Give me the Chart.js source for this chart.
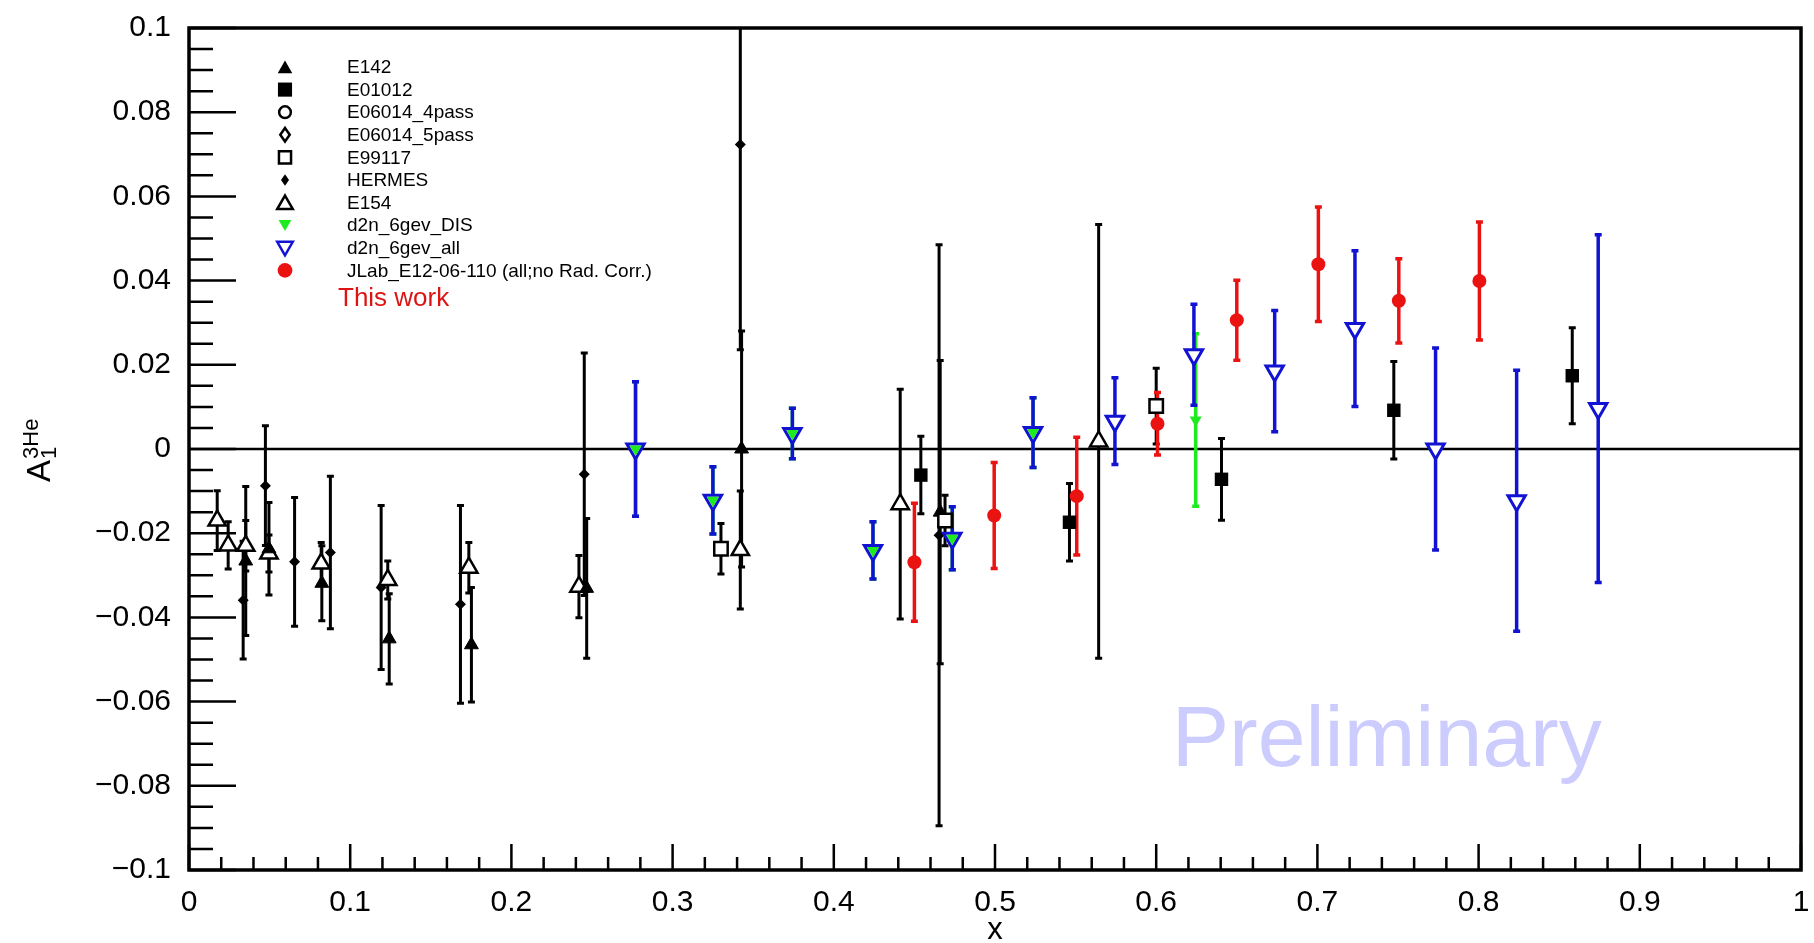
<!DOCTYPE html>
<html>
<head>
<meta charset="utf-8">
<title>A1 3He vs x</title>
<script src="https://cdn.jsdelivr.net/npm/chart.js@4.4.0/dist/chart.umd.min.js"></script>
<style>
  html, body { margin: 0; padding: 0; background: #fff; }
  #wrap { width: 1814px; height: 943px; }
</style>
</head>
<body>
<div id="wrap"><canvas id="a1chart" width="1814" height="943"></canvas></div>
<script>
// E142 (SLAC)
const e142X   = [0.0352, 0.0496, 0.0824, 0.1242, 0.1752, 0.2467, 0.3428, 0.4660];
const e142Y   = [-0.0266, -0.0237, -0.0319, -0.0451, -0.0465, -0.0331, 0.0000, -0.0150];
const e142Err = [0.0177, 0.0110, 0.0089, 0.0107, 0.0136, 0.0166, 0.0280, 0.0360];

// E01012
const e01012X   = [0.4540, 0.5462, 0.6405, 0.7474, 0.8581];
const e01012Y   = [-0.0062, -0.0174, -0.0072, 0.0092, 0.0174];
const e01012Err = [0.0092, 0.0092, 0.0097, 0.0116, 0.0114];

// E06014 (no points in this x range)
const e06014p4X = [], e06014p4Y = [], e06014p4Err = [];
const e06014p5X = [], e06014p5Y = [], e06014p5Err = [];

// E99117
const e99117X   = [0.3300, 0.4690, 0.6000];
const e99117Y   = [-0.0237, -0.0170, 0.0102];
const e99117Err = [0.0060, 0.0060, 0.0090];

// HERMES
const hermesX   = [0.0336, 0.0474, 0.0655, 0.0877, 0.1192, 0.1684, 0.2452, 0.3420, 0.4653];
const hermesY   = [-0.0359, -0.0087, -0.0268, -0.0246, -0.0329, -0.0369, -0.0060, 0.0723, -0.0205];
const hermesErr = [0.0140, 0.0142, 0.0153, 0.0181, 0.0195, 0.0235, 0.0288, 0.0487, 0.0690];

// E154
const e154X   = [0.0175, 0.0243, 0.0352, 0.0496, 0.0820, 0.1233, 0.1736, 0.2419, 0.3420, 0.4412, 0.5643];
const e154Y   = [-0.0170, -0.0229, -0.0230, -0.0248, -0.0272, -0.0311, -0.0282, -0.0327, -0.0240, -0.0131, 0.0018];
const e154Err = [0.0071, 0.0056, 0.0060, 0.0044, 0.0050, 0.0045, 0.0060, 0.0074, 0.0140, 0.0273, 0.0515];

// d2n 6 GeV, DIS bins only
const d2nDisX   = [0.2770, 0.3250, 0.3743, 0.4243, 0.4735, 0.5236, 0.6245];
const d2nDisY   = [0.0000, -0.0122, 0.0037, -0.0241, -0.0212, 0.0039, 0.0069];
const d2nDisErr = [0.0160, 0.0080, 0.0060, 0.0068, 0.0075, 0.0083, 0.0205];

// d2n 6 GeV, all bins
const d2nAllX   = [0.2770, 0.3250, 0.3743, 0.4243, 0.4735, 0.5236, 0.5744, 0.6234, 0.6735, 0.7233, 0.7733, 0.8236, 0.8742];
const d2nAllY   = [0.0000, -0.0122, 0.0037, -0.0241, -0.0212, 0.0039, 0.0066, 0.0224, 0.0185, 0.0286, 0.0000, -0.0123, 0.0096];
const d2nAllErr = [0.0160, 0.0080, 0.0060, 0.0068, 0.0075, 0.0083, 0.0103, 0.0120, 0.0144, 0.0185, 0.0240, 0.0310, 0.0413];

// JLab E12-06-110, no radiative corrections
const jlabX   = [0.4500, 0.4995, 0.5507, 0.6008, 0.6500, 0.7006, 0.7505, 0.8005];
const jlabY   = [-0.0269, -0.0158, -0.0112, 0.0060, 0.0306, 0.0439, 0.0352, 0.0399];
const jlabErr = [0.0140, 0.0126, 0.0140, 0.0074, 0.0095, 0.0136, 0.0100, 0.0140];

const xTicks = [0, 0.1, 0.2, 0.3, 0.4, 0.5, 0.6, 0.7, 0.8, 0.9, 1];
const yTicks = [-0.1, -0.08, -0.06, -0.04, -0.02, 0, 0.02, 0.04, 0.06, 0.08, 0.1];

const FONT = "'Liberation Sans', Arial, Helvetica, sans-serif";
const BLACK = '#000000', BLUE = 'rgb(18,18,210)', RED = 'rgb(235,18,18)', GREEN = 'rgb(30,235,30)';

function pts(xs, ys) {
  return xs.map((x, i) => ({ x: x, y: ys[i] }));
}

function series(label, xs, ys, errs, style) {
  return Object.assign({
    label: label,
    data: pts(xs, ys),
    errors: errs,
    showLine: false,
    pointRotation: 0,
    pointBorderWidth: 0,
    barWidth: 3
  }, style);
}

const datasets = [
  series('E142', e142X, e142Y, e142Err, {
    pointStyle: 'triangle', pointRadius: 8, pointBackgroundColor: BLACK, pointBorderColor: BLACK,
    pointBorderWidth: 1, barColor: BLACK, order: 5 }),
  series('E01012', e01012X, e01012Y, e01012Err, {
    pointStyle: 'rect', pointRadius: 9.5, pointBackgroundColor: BLACK, pointBorderColor: BLACK,
    barColor: BLACK, order: 3 }),
  series('E06014_4pass', e06014p4X, e06014p4Y, e06014p4Err, {
    pointStyle: 'circle', pointRadius: 6.5, pointBackgroundColor: '#fff', pointBorderColor: BLACK,
    pointBorderWidth: 2.5, barColor: BLACK, order: 8 }),
  series('E06014_5pass', e06014p5X, e06014p5Y, e06014p5Err, {
    pointStyle: 'rectRot', pointRadius: 7.5, pointBackgroundColor: '#fff', pointBorderColor: BLACK,
    pointBorderWidth: 2.5, barColor: BLACK, order: 9 }),
  series('E99117', e99117X, e99117Y, e99117Err, {
    pointStyle: 'rect', pointRadius: 9.5, pointBackgroundColor: '#fff', pointBorderColor: BLACK,
    pointBorderWidth: 2.5, barColor: BLACK, order: 4 }),
  series('HERMES', hermesX, hermesY, hermesErr, {
    pointStyle: 'rectRot', pointRadius: 5.5, pointBackgroundColor: BLACK, pointBorderColor: BLACK,
    barColor: BLACK, order: 7 }),
  series('E154', e154X, e154Y, e154Err, {
    pointStyle: 'triangle', pointRadius: 10, pointBackgroundColor: '#fff', pointBorderColor: BLACK,
    pointBorderWidth: 2.5, barColor: BLACK, order: 6 }),
  series('d2n_6gev_DIS', d2nDisX, d2nDisY, d2nDisErr, {
    pointStyle: 'triangle', pointRotation: 180, pointRadius: 7, pointBackgroundColor: GREEN,
    pointBorderColor: GREEN, barColor: GREEN, barWidth: 3.5, order: 1 }),
  series('d2n_6gev_all', d2nAllX, d2nAllY, d2nAllErr, {
    pointStyle: 'triangle', pointRotation: 180, pointRadius: 10, pointBackgroundColor: '#fff',
    pointBorderColor: BLUE, pointBorderWidth: 3, barColor: BLUE, barWidth: 3.5, order: 2 }),
  series('JLab_E12-06-110 (all;no Rad. Corr.)', jlabX, jlabY, jlabErr, {
    pointStyle: 'circle', pointRadius: 7, pointBackgroundColor: RED, pointBorderColor: RED,
    barColor: RED, barWidth: 3.5, order: 0 })
];

// vertical error bars with small end caps, clipped to the frame
const errorBars = {
  id: 'errorBars',
  beforeDatasetsDraw(chart) {
    const ctx = chart.ctx, a = chart.chartArea;
    const xs = chart.scales.x, ys = chart.scales.y;
    ctx.save();
    ctx.beginPath();
    ctx.rect(a.left, a.top, a.right - a.left, a.bottom - a.top);
    ctx.clip();

    // y = 0 reference line
    const y0 = ys.getPixelForValue(0);
    ctx.strokeStyle = BLACK;
    ctx.lineWidth = 2.5;
    ctx.beginPath();
    ctx.moveTo(a.left, y0);
    ctx.lineTo(a.right, y0);
    ctx.stroke();

    // watermark
    ctx.fillStyle = 'rgb(204,204,255)';
    ctx.font = '86px ' + FONT;
    ctx.textAlign = 'center';
    ctx.textBaseline = 'alphabetic';
    ctx.fillText('Preliminary', xs.getPixelForValue(0.743), ys.getPixelForValue(-0.0753));

    chart.data.datasets.forEach(ds => {
      if (!ds.errors) return;
      ctx.strokeStyle = ds.barColor;
      ctx.lineWidth = ds.barWidth;
      ds.data.forEach((p, i) => {
        const e = ds.errors[i];
        const px = xs.getPixelForValue(p.x);
        const hi = ys.getPixelForValue(p.y + e);
        const lo = ys.getPixelForValue(p.y - e);
        ctx.beginPath();
        ctx.moveTo(px, hi);
        ctx.lineTo(px, lo);
        ctx.moveTo(px - 3.5, hi);
        ctx.lineTo(px + 3.5, hi);
        ctx.moveTo(px - 3.5, lo);
        ctx.lineTo(px + 3.5, lo);
        ctx.stroke();
      });
    });
    ctx.restore();
  }
};

function marker(ctx, style, rot, x, y, r, fill, stroke, lw) {
  ctx.beginPath();
  if (style === 'circle') {
    ctx.arc(x, y, r, 0, Math.PI * 2);
  } else if (style === 'rect') {
    const s = r * Math.SQRT1_2;
    ctx.rect(x - s, y - s, 2 * s, 2 * s);
  } else if (style === 'rectRot') {
    ctx.moveTo(x, y - r);
    ctx.lineTo(x + r * 0.7, y);
    ctx.lineTo(x, y + r);
    ctx.lineTo(x - r * 0.7, y);
    ctx.closePath();
  } else {
    let ang = rot * Math.PI / 180;
    ctx.moveTo(x + Math.sin(ang) * r, y - Math.cos(ang) * r);
    for (let k = 0; k < 2; k++) {
      ang += 2 * Math.PI / 3;
      ctx.lineTo(x + Math.sin(ang) * r, y - Math.cos(ang) * r);
    }
    ctx.closePath();
  }
  ctx.fillStyle = fill;
  ctx.fill();
  if (lw > 0) {
    ctx.strokeStyle = stroke;
    ctx.lineWidth = lw;
    ctx.stroke();
  }
}

// frame, inward ticks, legend and axis titles
const frameAndText = {
  id: 'frameAndText',
  afterDatasetsDraw(chart) {
    const ctx = chart.ctx, a = chart.chartArea;
    const xs = chart.scales.x, ys = chart.scales.y;
    ctx.save();
    ctx.strokeStyle = BLACK;

    ctx.lineWidth = 2.5;
    ctx.beginPath();
    for (let i = 0; i <= 40; i++) {
      const py = ys.getPixelForValue(-0.1 + i * 0.005);
      ctx.moveTo(a.left, py);
      ctx.lineTo(a.left + (i % 4 === 0 ? 47 : 24), py);
    }
    for (let i = 0; i <= 50; i++) {
      const px = xs.getPixelForValue(i * 0.02);
      ctx.moveTo(px, a.bottom);
      ctx.lineTo(px, a.bottom - (i % 5 === 0 ? 26 : 13));
    }
    ctx.stroke();

    ctx.lineWidth = 3.5;
    ctx.strokeRect(a.left, a.top, a.right - a.left, a.bottom - a.top);

    // legend
    const top = 67, step = 22.6, mx = 285, tx = 347;
    ctx.font = '19px ' + FONT;
    ctx.textAlign = 'left';
    ctx.textBaseline = 'middle';
    chart.data.datasets.forEach((ds, i) => {
      const y = top + i * step;
      const hollow = ds.pointBackgroundColor === '#fff';
      const r = hollow ? ds.pointRadius * 0.9 : ds.pointRadius * 1.05;
      const dy = ds.pointStyle === 'triangle' ? (ds.pointRotation ? -1.5 : 2) : 0;
      marker(ctx, ds.pointStyle, ds.pointRotation, mx, y + dy,
        r, ds.pointBackgroundColor, ds.pointBorderColor, hollow ? 2.5 : 0);
      ctx.fillStyle = BLACK;
      ctx.fillText(ds.label, tx, y + 1);
    });
    ctx.fillStyle = 'rgb(220,20,20)';
    ctx.font = '26px ' + FONT;
    ctx.textBaseline = 'alphabetic';
    ctx.fillText('This work', 338, 306);

    // x-axis title
    ctx.fillStyle = BLACK;
    ctx.font = '31px ' + FONT;
    ctx.textAlign = 'center';
    ctx.fillText('x', xs.getPixelForValue(0.5), 939);

    // y-axis title A_1^{3He}
    ctx.translate(50, 482);
    ctx.rotate(-Math.PI / 2);
    ctx.textAlign = 'left';
    ctx.font = '33px ' + FONT;
    ctx.fillText('A', 0, 0);
    const w = ctx.measureText('A').width;
    ctx.font = '22px ' + FONT;
    ctx.fillText('3He', w + 1, -12);
    ctx.fillText('1', w + 1, 6);
    ctx.restore();
  }
};

function tickText(v) {
  const s = String(Math.round(v * 100) / 100);
  return s.replace('-', '\u2212');
}

new Chart(document.getElementById('a1chart'), {
  type: 'scatter',
  data: { datasets: datasets },
  options: {
    responsive: false,
    animation: false,
    devicePixelRatio: 1,
    layout: { padding: { left: 0, top: 23, right: 6, bottom: 0 } },
    plugins: { legend: { display: false }, tooltip: { enabled: false } },
    scales: {
      x: {
        type: 'linear', min: 0, max: 1,
        afterBuildTicks: s => { s.ticks = xTicks.map(v => ({ value: v })); },
        afterFit: s => { s.height = 73; s.paddingLeft = 0; s.paddingRight = 0; },
        grid: { display: false }, border: { display: false },
        ticks: { autoSkip: false, maxRotation: 0, padding: 7, color: BLACK,
                 font: { family: FONT, size: 30 }, callback: tickText }
      },
      y: {
        type: 'linear', min: -0.1, max: 0.1,
        afterBuildTicks: s => { s.ticks = yTicks.map(v => ({ value: v })); },
        afterFit: s => { s.width = 189; },
        grid: { display: false }, border: { display: false },
        ticks: { autoSkip: false, padding: 10, color: BLACK,
                 font: { family: FONT, size: 30 }, callback: tickText }
      }
    }
  },
  plugins: [errorBars, frameAndText]
});
</script>
</body>
</html>
